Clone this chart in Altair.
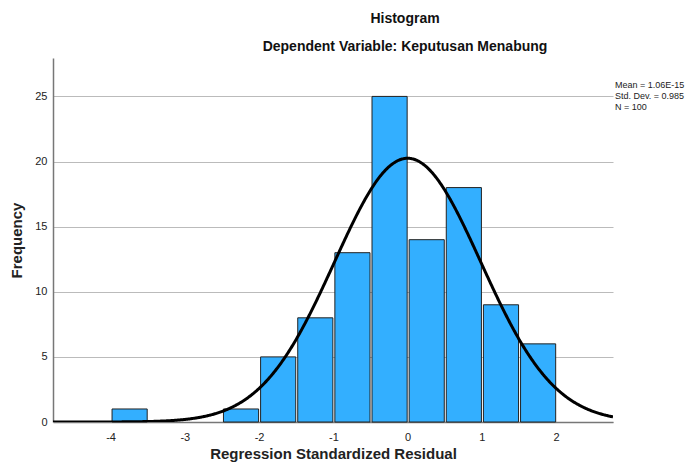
import altair as alt
import pandas as pd

# Histogram bins (regression standardized residual) and frequencies
bin_start = [-4.0, -3.5, -3.0, -2.5, -2.0, -1.5, -1.0, -0.5, 0.0, 0.5, 1.0, 1.5]
bin_end = [-3.5, -3.0, -2.5, -2.0, -1.5, -1.0, -0.5, 0.0, 0.5, 1.0, 1.5, 2.0]
frequency = [1, 0, 0, 1, 5, 8, 13, 25, 14, 18, 9, 6]

# Statistics shown in the legend
MEAN = 1.06e-15
STD_DEV = 0.985
N = 100
BIN_WIDTH = 0.5
stats_lines = ["Mean = 1.06E-15", "Std. Dev. = 0.985", "N = 100"]

x_ticks = [-4, -3, -2, -1, 0, 1, 2]
y_ticks = [0, 5, 10, 15, 20, 25]
X_DOMAIN = [-4.775, 2.765]
Y_DOMAIN = [0, 27.95]

FONT = "Liberation Sans"

bars_df = pd.DataFrame({"start": bin_start, "end": bin_end, "freq": frequency})
bars_df = bars_df[bars_df["freq"] > 0]

xscale = alt.Scale(domain=X_DOMAIN, nice=False, zero=False)
yscale = alt.Scale(domain=Y_DOMAIN, nice=False)

bars = alt.Chart(bars_df).mark_bar(
    color="#33AFFF", stroke="#222222", strokeWidth=1, binSpacing=2
).encode(
    x=alt.X("start:Q", bin="binned", scale=xscale,
            axis=alt.Axis(values=x_ticks, title="Regression Standardized Residual",
                          labelExpr="'' + datum.value",
                          grid=False, ticks=False, labelPadding=9, titlePadding=4)),
    x2="end:Q",
    y=alt.Y("freq:Q", scale=yscale,
            axis=alt.Axis(values=y_ticks, title="Frequency", grid=True,
                          labelExpr="'' + datum.value",
                          ticks=False, labelPadding=6, titlePadding=10)),
)

curve = alt.Chart(alt.sequence(X_DOMAIN[0], X_DOMAIN[1] + 0.01, 0.01, as_="x")).transform_calculate(
    y=f"{N} * {BIN_WIDTH} * exp(-0.5 * pow((datum.x - {MEAN}) / {STD_DEV}, 2)) / ({STD_DEV} * sqrt(2 * PI))"
).mark_line(color="black", strokeWidth=3, clip=True).encode(
    x=alt.X("x:Q", scale=xscale),
    y=alt.Y("y:Q", scale=yscale),
)

stats = alt.Chart(pd.DataFrame({"t": ["\n".join(stats_lines)]})).mark_text(
    align="left", baseline="top", lineBreak="\n", fontSize=9, lineHeight=11,
    font=FONT, color="#222222"
).encode(
    x=alt.value(562), y=alt.value(23), text="t:N"
)

chart = alt.layer(bars, curve, stats).properties(
    width=560,
    height=364,
    title=alt.TitleParams(
        text="Histogram",
        subtitle="Dependent Variable: Keputusan Menabung",
        anchor="middle", dx=72, offset=4,
        fontSize=14, fontWeight="bold", font=FONT, color="#111111",
        subtitleFontSize=14, subtitleFontWeight="bold", subtitleFont=FONT,
        subtitleColor="#111111", subtitlePadding=14,
    ),
    autosize=alt.AutoSizeParams(type="none"),
    padding={"left": 45, "top": 50, "right": 76, "bottom": 40},
).configure_view(stroke=None).configure_axis(
    domainColor="#777777", domainWidth=1.5, gridColor="#BBBBBB", gridWidth=1,
    labelFont=FONT, labelFontSize=11, labelColor="#222222",
    titleFont=FONT, titleFontSize=15, titleFontWeight="bold", titleColor="#222222",
)

chart.save("out.html", embed_options={"renderer": "svg", "actions": False})
